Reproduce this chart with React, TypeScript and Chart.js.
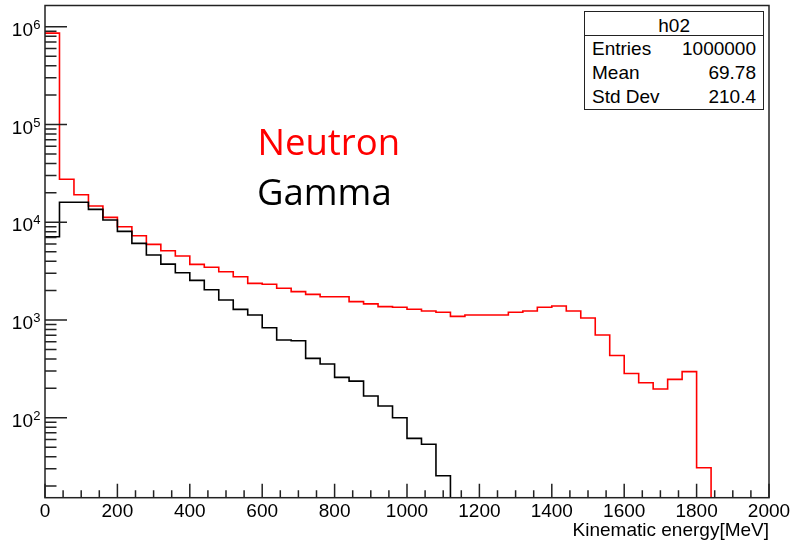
import React, { useEffect, useRef } from 'react';
import { Chart, registerables } from 'chart.js';

Chart.register(...registerables);

// ---- data ----
const BIN_WIDTH = 40; // MeV
const X_MIN = 0;
const X_MAX = 2000;
const X_MINOR_STEP = 50;
const Y_MIN = 15.2;
const Y_MAX = 1.65e6;

const xTickValues = [0, 200, 400, 600, 800, 1000, 1200, 1400, 1600, 1800, 2000];
const yTickValues = [100, 1000, 10000, 100000, 1000000];
const yTickBase = '10';
const yTickExponents = ['2', '3', '4', '5', '6'];

const neutronCounts = [
  860000, 27500, 19100, 14650, 11220, 8990, 7280, 5940, 5110, 4510,
  3710, 3460, 3120, 2770, 2370, 2320, 2110, 1950, 1830, 1730,
  1730, 1540, 1460, 1370, 1350, 1290, 1235, 1200, 1090, 1125,
  1125, 1125, 1200, 1235, 1350, 1390, 1235, 1047, 702, 433,
  283, 228, 197, 247, 296, 30.8, 0, 0, 0, 0,
];

const gammaCounts = [
  7110, 15990, 15990, 13550, 10530, 8070, 6080, 4620, 3730, 3040,
  2540, 2040, 1600, 1285, 1125, 833, 624, 614, 405, 354,
  259, 237, 167, 132, 100, 61.5, 53.5, 25.5, 0, 0,
  0, 0, 0, 0, 0, 0, 0, 0, 0, 0,
  0, 0, 0, 0, 0, 0, 0, 0, 0, 0,
];

const seriesNames = ['Neutron', 'Gamma'];
const seriesColors = ['#ff0000', '#000000'];
const xAxisTitle = 'Kinematic energy[MeV]';
const statsTitle = 'h02';
const statsLabels = ['Entries', 'Mean', 'Std Dev'];
const statsValues = ['1000000', '69.78', '210.4'];

const FONT = "'Liberation Sans', Arial, Helvetica, sans-serif";

// empty bins sit on the axis floor of the log scale (as ROOT draws them)
function toSteps(counts: number[]) {
  const floor = (c: number) => (c > 0 ? c : Y_MIN);
  const pts = counts.map((c, i) => ({ x: X_MIN + i * BIN_WIDTH, y: floor(c) }));
  pts.push({ x: X_MIN + counts.length * BIN_WIDTH, y: floor(counts[counts.length - 1]) });
  return pts;
}

const rootFrame = {
  id: 'rootFrame',
  afterDatasetsDraw(chart: any) {
    const { ctx, chartArea: a, scales } = chart;
    const xs = scales.x;
    const ys = scales.y;
    ctx.save();
    ctx.strokeStyle = '#222';
    ctx.lineWidth = 1.5;
    ctx.beginPath();
    for (let v = X_MIN; v <= X_MAX; v += X_MINOR_STEP) {
      const px = xs.getPixelForValue(v);
      const len = xTickValues.includes(v) ? 14 : 7.5;
      ctx.moveTo(px, a.bottom);
      ctx.lineTo(px, a.bottom - len);
    }
    for (let e = 1; e <= 6; e++) {
      for (let k = 1; k <= 9; k++) {
        const v = k * Math.pow(10, e);
        if (v < Y_MIN || v > Y_MAX) continue;
        const py = ys.getPixelForValue(v);
        const len = k === 1 ? 22 : 11.5;
        ctx.moveTo(a.left, py);
        ctx.lineTo(a.left + len, py);
      }
    }
    ctx.stroke();
    ctx.strokeRect(a.left, a.top, a.right - a.left, a.bottom - a.top);

    // y tick labels in ROOT style: 10 with raised exponent
    ctx.fillStyle = '#000';
    ctx.textBaseline = 'alphabetic';
    yTickValues.forEach((v, i) => {
      const py = ys.getPixelForValue(v);
      ctx.font = `19px ${FONT}`;
      ctx.textAlign = 'right';
      ctx.fillText(yTickBase, 33, py + 9);
      ctx.font = `13px ${FONT}`;
      ctx.textAlign = 'left';
      ctx.fillText(yTickExponents[i], 33.3, py + 2);
    });
    ctx.restore();
  },
};

export default function App() {
  const canvasRef = useRef<HTMLCanvasElement | null>(null);

  useEffect(() => {
    if (!canvasRef.current) return;
    const chart = new Chart(canvasRef.current, {
      type: 'line',
      data: {
        datasets: [
          {
            label: seriesNames[1],
            data: toSteps(gammaCounts),
            borderColor: seriesColors[1],
            borderWidth: 1.6,
            pointRadius: 0,
            stepped: 'before',
            fill: false,
          },
          {
            label: seriesNames[0],
            data: toSteps(neutronCounts),
            borderColor: seriesColors[0],
            borderWidth: 1.6,
            pointRadius: 0,
            stepped: 'before',
            fill: false,
          },
        ],
      },
      options: {
        responsive: false,
        animation: false,
        devicePixelRatio: 1,
        layout: { padding: { top: 5.5, right: 22, left: 0, bottom: 0 } },
        plugins: { legend: { display: false }, tooltip: { enabled: false } },
        scales: {
          x: {
            type: 'linear',
            min: X_MIN,
            max: X_MAX,
            grid: { display: false, drawTicks: false },
            border: { display: false },
            afterBuildTicks: (s: any) => {
              s.ticks = xTickValues.map((v) => ({ value: v }));
            },
            afterFit: (s: any) => {
              s.height = 47.3;
              s.paddingLeft = 0;
              s.paddingRight = 0;
            },
            ticks: {
              autoSkip: false,
              maxRotation: 0,
              padding: 3,
              color: '#000',
              font: { family: FONT, size: 19 },
              callback: (v: any) => String(v),
            },
            title: {
              display: true,
              text: xAxisTitle,
              align: 'end',
              color: '#000',
              font: { family: FONT, size: 19 },
              padding: { top: 0, bottom: 2.6 },
            },
          },
          y: {
            type: 'logarithmic',
            min: Y_MIN,
            max: Y_MAX,
            grid: { display: false, drawTicks: false },
            border: { display: false },
            afterBuildTicks: (s: any) => {
              s.ticks = yTickValues.map((v) => ({ value: v }));
            },
            afterFit: (s: any) => {
              s.width = 45;
              s.paddingTop = 0;
              s.paddingBottom = 0;
            },
            ticks: { display: false },
          },
        },
      },
      plugins: [rootFrame],
    } as any);
    return () => chart.destroy();
  }, []);

  const statRowBaselines = [55, 79.2, 103.3];

  return (
    <div style={{ position: 'absolute', left: 0, top: 0, width: 791, height: 545, background: '#fff' }}>
      <canvas ref={canvasRef} width={791} height={545} style={{ position: 'absolute', left: 0, top: 0, width: 791, height: 545 }} />
      <div style={{ position: 'absolute', left: 257.5, top: 122.5, font: "36.5px 'Open Sans', sans-serif", lineHeight: '36.5px', color: '#ff0000', whiteSpace: 'nowrap' }}>
        {seriesNames[0]}
      </div>
      <div style={{ position: 'absolute', left: 257, top: 172.8, font: "36.5px 'Open Sans', sans-serif", lineHeight: '36.5px', color: '#000', whiteSpace: 'nowrap' }}>
        {seriesNames[1]}
      </div>
      <div style={{ position: 'absolute', left: 584, top: 10.7, width: 180.3, height: 99.3, border: '1.5px solid #222', boxSizing: 'border-box', background: '#fff' }} />
      <div style={{ position: 'absolute', left: 584, top: 35, width: 180.3, height: 0, borderTop: '1.5px solid #222' }} />
      <div style={{ position: 'absolute', left: 584, width: 180.3, top: 31.7 - 16.1, textAlign: 'center', font: `19px ${FONT}`, lineHeight: '19px', color: '#000' }}>
        {statsTitle}
      </div>
      {statsLabels.map((lab, i) => (
        <React.Fragment key={lab}>
          <div style={{ position: 'absolute', left: 592, top: statRowBaselines[i] - 16.1, font: `19px ${FONT}`, lineHeight: '19px', color: '#000', whiteSpace: 'nowrap' }}>
            {lab}
          </div>
          <div style={{ position: 'absolute', right: 791 - 756, top: statRowBaselines[i] - 16.1, font: `19px ${FONT}`, lineHeight: '19px', color: '#000', whiteSpace: 'nowrap', textAlign: 'right' }}>
            {statsValues[i]}
          </div>
        </React.Fragment>
      ))}
    </div>
  );
}
